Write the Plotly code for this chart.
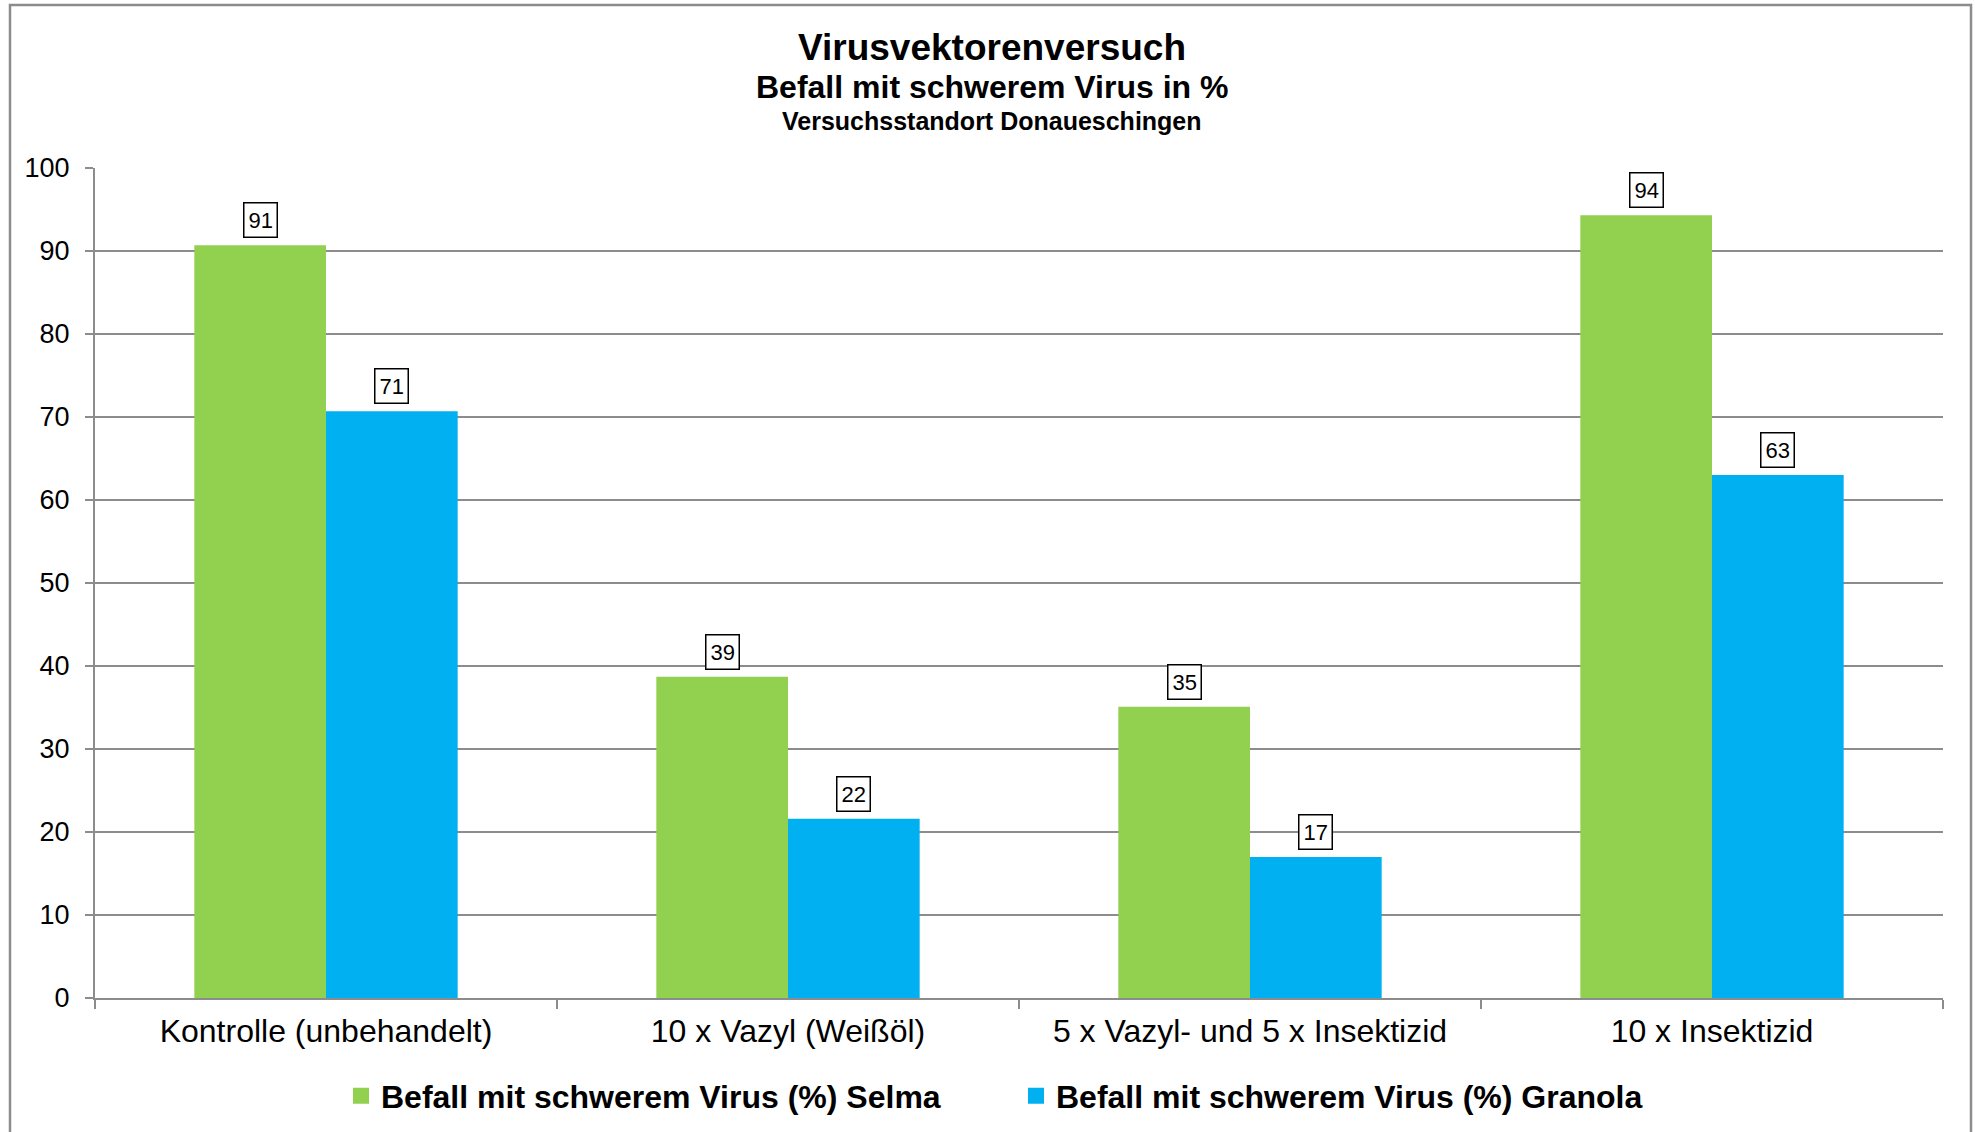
import plotly.graph_objects as go

# Daten
kategorien = ["Kontrolle (unbehandelt)", "10 x Vazyl (Weißöl)",
              "5 x Vazyl- und 5 x Insektizid", "10 x Insektizid"]
selma = [90.7, 38.7, 35.1, 94.3]
granola = [70.7, 21.6, 17.0, 63.0]
namen = ["Befall mit schwerem Virus (%) Selma", "Befall mit schwerem Virus (%) Granola"]
farben = ["#92D050", "#00B0F0"]

W, H = 1975, 1132
L, R, T, B = 95, 32, 168, 134
plot_w = W - L - R
plot_h = H - T - B
band = plot_w / len(kategorien)
bargap = 0.43
bar_w = band * (1 - bargap) / 2
font = "Liberation Sans, Arial, sans-serif"

fig = go.Figure()
for name, werte, farbe in zip(namen, [selma, granola], farben):
    fig.add_trace(go.Bar(x=kategorien, y=werte, name=name, marker_color=farbe,
                         marker_line_width=0, showlegend=False))
    # Legendeneintrag mit groesserem Quadrat
    fig.add_trace(go.Scatter(x=[None], y=[None], mode="markers", name=f"<b>{name}</b>",
                             marker=dict(symbol="square", size=16, color=farbe)))

# Datenbeschriftungen mit Rahmen
for werte, shift in [(selma, -bar_w / 2), (granola, bar_w / 2)]:
    for k, v in zip(kategorien, werte):
        fig.add_annotation(x=k, y=v, xref="x", yref="y", text=f"{round(v)}",
                           showarrow=False, xshift=shift, yshift=7, yanchor="bottom",
                           font=dict(family=font, size=22, color="black"),
                           bordercolor="black", borderwidth=1.5, borderpad=4,
                           bgcolor="white")

# Titel in drei Zeilen
titel = [("Virusvektorenversuch", 37, 47), ("Befall mit schwerem Virus in %", 32, 87),
         ("Versuchsstandort Donaueschingen", 25, 121)]
for text, size, ypix in titel:
    fig.add_annotation(x=(W / 2 + 4 - L) / plot_w, y=(H - B - ypix) / plot_h,
                       xref="paper", yref="paper", yanchor="middle",
                       text=f"<b>{text}</b>", showarrow=False,
                       font=dict(family=font, size=size, color="black"))

# Aeusserer Rahmen
fig.add_shape(type="rect", xref="paper", yref="paper",
              x0=(10 - L) / plot_w, x1=(1971 - L) / plot_w,
              y0=(H - B - 1140) / plot_h, y1=(H - B - 5) / plot_h,
              line=dict(color="#8c8c8c", width=2.5), fillcolor="rgba(0,0,0,0)")

fig.update_layout(
    width=W, height=H, barmode="group", bargap=bargap, bargroupgap=0,
    margin=dict(l=L, r=R, t=T, b=B),
    paper_bgcolor="white", plot_bgcolor="white",
    font=dict(family=font, color="black"),
    legend=dict(orientation="h", xref="container", yref="container",
                x=1016 / W, xanchor="center", y=1 - 1096 / H, yanchor="middle",
                font=dict(family=font, size=32, color="black"),
                itemsizing="trace", traceorder="normal", itemwidth=30,
                entrywidth=630, entrywidthmode="pixels"),
    showlegend=True,
)
fig.update_xaxes(showline=True, linecolor="#8c8c8c", linewidth=2,
                 ticks="outside", tickson="boundaries", ticklen=9, tickcolor="#8c8c8c",
                 tickwidth=2, tickfont=dict(family=font, size=32, color="black"),
                 ticklabelstandoff=4, showgrid=False)
fig.update_yaxes(range=[0, 100], dtick=10, showline=True, linecolor="#8c8c8c", linewidth=2,
                 ticks="outside", ticklen=8, tickcolor="#8c8c8c", tickwidth=2,
                 showgrid=True, gridcolor="#8c8c8c", gridwidth=2, ticklabelstandoff=10,
                 tickfont=dict(family=font, size=27, color="black"), zeroline=False)

fig.write_html("out.html", config={"displayModeBar": False},
               post_script="document.body.style.margin='0';document.body.style.padding='0';")
